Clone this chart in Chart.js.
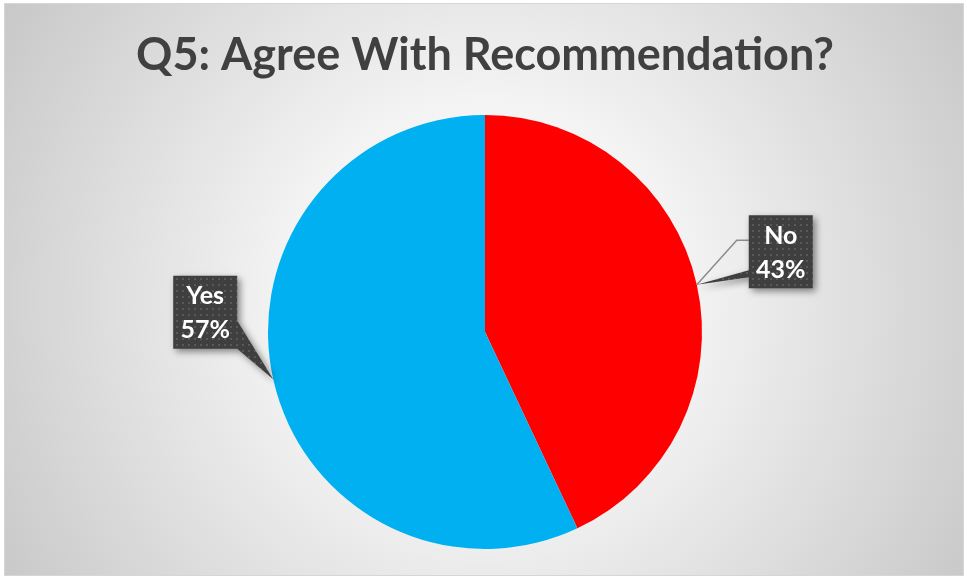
<!DOCTYPE html>
<html>
<head>
<meta charset="utf-8">
<script src="https://cdn.jsdelivr.net/npm/chart.js@4/dist/chart.umd.min.js"></script>
<style>
  html, body { margin: 0; padding: 0; background: #ffffff; }
  #wrap { width: 967px; height: 579px; position: relative; }
</style>
</head>
<body>
<div id="wrap"><canvas id="c" width="967" height="579"></canvas></div>
<script>
const titleText = 'Q5: Agree With Recommendation?';
const categories = ['No', 'Yes'];
const values = [43, 57];
const sliceColors = ['#FF0000', '#00B0F0'];

// label callout styling (offset of box centre from slice edge midpoint)
const calloutStyle = [
  { dx: 84, dy: -33, w: 64, h: 73, wedge: 'left', leader: true },
  { dx: -68, dy: -67, w: 64, h: 73, wedge: 'right', leader: false }
];

function makePattern(ctx) {
  const p = document.createElement('canvas');
  p.width = 6; p.height = 6;
  const pc = p.getContext('2d');
  pc.fillStyle = '#3f3f3f';
  pc.fillRect(0, 0, 6, 6);
  pc.fillStyle = '#595959';
  pc.fillRect(2, 2, 2, 2);
  return ctx.createPattern(p, 'repeat');
}

const bgPlugin = {
  id: 'bg',
  beforeDraw(chart) {
    const ctx = chart.ctx;
    const W = chart.width, H = chart.height;
    ctx.save();
    ctx.fillStyle = '#ffffff';
    ctx.fillRect(0, 0, W, H);
    const g = ctx.createRadialGradient(485, 300, 0, 485, 300, 580);
    g.addColorStop(0, '#ffffff');
    g.addColorStop(0.35, '#f3f3f3');
    g.addColorStop(1, '#c6c6c6');
    ctx.fillStyle = g;
    ctx.fillRect(4, 3, W - 7, H - 6);
    ctx.strokeStyle = '#d6d6d6';
    ctx.lineWidth = 1;
    ctx.strokeRect(4.5, 3.5, W - 8, H - 7);
    ctx.restore();
  }
};

const calloutPlugin = {
  id: 'callouts',
  afterDatasetsDraw(chart) {
    const ctx = chart.ctx;
    const meta = chart.getDatasetMeta(0);
    const total = values.reduce((a, b) => a + b, 0);
    const pattern = makePattern(ctx);
    meta.data.forEach((arc, i) => {
      const st = calloutStyle[i];
      const mid = (arc.startAngle + arc.endAngle) / 2;
      const ax = arc.x + Math.cos(mid) * arc.outerRadius;
      const ay = arc.y + Math.sin(mid) * arc.outerRadius;
      const cx = ax + st.dx, cy = ay + st.dy;
      const x0 = cx - st.w / 2, y0 = cy - st.h / 2;
      const x1 = x0 + st.w, y1 = y0 + st.h;
      ctx.save();
      // leader line
      if (st.leader) {
        ctx.strokeStyle = '#8c8c8c';
        ctx.lineWidth = 1.5;
        ctx.beginPath();
        ctx.moveTo(ax, ay);
        ctx.lineTo(x0 - 12, y0 + 25);
        ctx.lineTo(x0, y0 + 25);
        ctx.stroke();
      }
      // shape with shadow
      ctx.shadowColor = 'rgba(0,0,0,0.45)';
      ctx.shadowBlur = 7;
      ctx.shadowOffsetX = 3;
      ctx.shadowOffsetY = 3;
      ctx.fillStyle = pattern;
      ctx.beginPath();
      if (st.wedge === 'left') {
        ctx.moveTo(x0, y0);
        ctx.lineTo(x1, y0);
        ctx.lineTo(x1, y1);
        ctx.lineTo(x0, y1);
        ctx.lineTo(x0, y0 + 62);
        ctx.lineTo(ax, ay);
        ctx.lineTo(x0, y0 + 55);
        ctx.closePath();
      } else {
        ctx.moveTo(x0, y0);
        ctx.lineTo(x1, y0);
        ctx.lineTo(x1, y0 + 45);
        ctx.lineTo(ax, ay);
        ctx.lineTo(x1, y1);
        ctx.lineTo(x0, y1);
        ctx.closePath();
      }
      ctx.fill();
      ctx.shadowColor = 'transparent';
      // text
      ctx.fillStyle = '#ffffff';
      ctx.font = 'bold 25px Lato, "Open Sans", sans-serif';
      ctx.textAlign = 'center';
      ctx.textBaseline = 'middle';
      const pct = Math.round(values[i] / total * 100) + '%';
      ctx.fillText(categories[i], cx, cy - 16);
      ctx.fillText(pct, cx, cy + 18);
      ctx.restore();
    });
  }
};

new Chart(document.getElementById('c'), {
  type: 'pie',
  data: {
    labels: categories,
    datasets: [{
      data: values,
      backgroundColor: sliceColors,
      borderWidth: 0
    }]
  },
  options: {
    responsive: false,
    animation: false,
    layout: { padding: { left: 3, right: 0, bottom: 30, top: 0 } },
    plugins: {
      legend: { display: false },
      tooltip: { enabled: false },
      title: {
        display: true,
        text: titleText,
        color: '#404040',
        font: { family: 'Lato, "Open Sans", sans-serif', size: 45, weight: 'bold' },
        padding: { top: 28, bottom: 33 }
      }
    }
  },
  plugins: [bgPlugin, calloutPlugin]
});
</script>
</body>
</html>
